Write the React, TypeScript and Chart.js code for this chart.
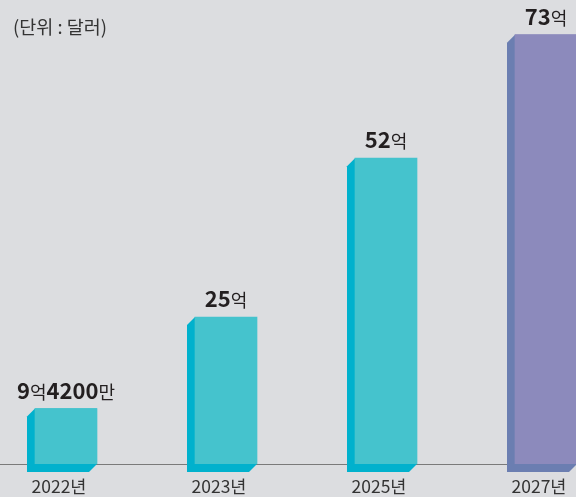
import React, { useEffect, useRef } from "react";
import { Chart, registerables } from "chart.js";

Chart.register(...registerables);

// ---- data ----
const categories = ["2022년", "2023년", "2025년", "2027년"];
const values = [9.42, 25, 52, 73]; // 억 달러
const labelParts = [
  ["9", "억", "4200", "만"],
  ["25", "억"],
  ["52", "억"],
  ["73", "억"],
];
const frontColors = ["#45c3cd", "#45c3cd", "#45c3cd", "#8c8abc"];
const sideColors = ["#00b1cd", "#00b1cd", "#00b1cd", "#6b7eb1"];
const unitText = "(단위 : 달러)";

const BG = "#dcdde0";
const DEPTH = 8;
const FONT = "'Noto Sans CJK KR', 'Noto Sans', sans-serif";

const cube3d = {
  id: "cube3d",
  beforeDatasetsDraw(chart: any) {
    const ctx = chart.ctx;
    const area = chart.chartArea;
    ctx.save();
    ctx.fillStyle = "#7a7a7a";
    ctx.fillRect(0, area.bottom, chart.width, 1);
    const meta = chart.getDatasetMeta(0);
    meta.data.forEach((bar: any, i: number) => {
      const { x, y, base, width } = bar.getProps(["x", "y", "base", "width"], true);
      const L = x - width / 2;
      const R = x + width / 2;
      ctx.fillStyle = sideColors[i];
      ctx.beginPath();
      ctx.moveTo(L, y);
      ctx.lineTo(L - DEPTH, y + DEPTH);
      ctx.lineTo(L - DEPTH, base + DEPTH);
      ctx.lineTo(R - DEPTH, base + DEPTH);
      ctx.lineTo(R, base);
      ctx.lineTo(R, y);
      ctx.closePath();
      ctx.fill();
    });
    ctx.restore();
  },
  afterDatasetsDraw(chart: any) {
    const ctx = chart.ctx;
    const meta = chart.getDatasetMeta(0);
    ctx.save();
    ctx.textBaseline = "alphabetic";
    ctx.textAlign = "left";
    ctx.fillStyle = "#231f20";
    const numFont = `bold 22px ${FONT}`;
    const korFont = `normal 18px ${FONT}`;
    meta.data.forEach((bar: any, i: number) => {
      const { x, y } = bar.getProps(["x", "y"], true);
      const parts = labelParts[i];
      const widths = parts.map((p, k) => {
        ctx.font = k % 2 === 0 ? numFont : korFont;
        return ctx.measureText(p).width;
      });
      const total = widths.reduce((a, b) => a + b, 0);
      let cx = x - total / 2;
      const by = y - 10;
      parts.forEach((p, k) => {
        ctx.font = k % 2 === 0 ? numFont : korFont;
        ctx.fillText(p, cx, by);
        cx += widths[k];
      });
    });
    ctx.restore();
  },
};

export default function App() {
  const ref = useRef<HTMLCanvasElement | null>(null);

  useEffect(() => {
    if (!ref.current) return;
    const chart = new Chart(ref.current, {
      type: "bar",
      data: {
        labels: categories,
        datasets: [
          {
            data: values,
            backgroundColor: frontColors,
            borderWidth: 0,
            barThickness: 62,
          },
        ],
      },
      options: {
        responsive: false,
        animation: false,
        devicePixelRatio: 1,
        layout: { padding: 0 },
        plugins: {
          legend: { display: false },
          tooltip: { enabled: false },
          title: { display: false },
        },
        scales: {
          x: {
            grid: { display: false, drawTicks: false },
            border: { display: false },
            ticks: {
              color: "#333333",
              padding: 12,
              labelOffset: -7,
              font: { family: FONT, size: 17.5, weight: "normal" },
            },
          },
          y: {
            display: false,
            min: 0,
            max: 78.9,
          },
        },
      },
      plugins: [cube3d],
    });
    return () => chart.destroy();
  }, []);

  return (
    <div
      style={{
        position: "fixed",
        left: 0,
        top: 0,
        width: 576,
        height: 497,
        overflow: "hidden",
        background: BG,
      }}
    >
      <div style={{ position: "absolute", left: -14, top: 0, width: 640, height: 509 }}>
        <canvas ref={ref} width={640} height={509} style={{ display: "block" }} />
      </div>
      <div
        style={{
          position: "absolute",
          left: 13,
          top: 16,
          fontFamily: FONT,
          fontSize: 18.5,
          lineHeight: "20px",
          color: "#333333",
          whiteSpace: "nowrap",
        }}
      >
        {unitText}
      </div>
    </div>
  );
}
